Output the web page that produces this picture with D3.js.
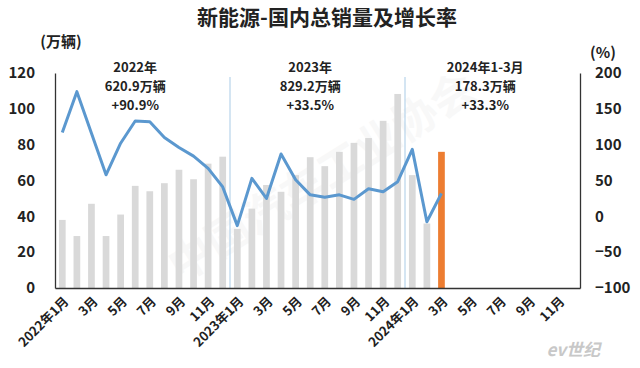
<!DOCTYPE html>
<html>
<head>
<meta charset="utf-8">
<script src="https://cdn.jsdelivr.net/npm/d3@7"></script>
<style>
  body { margin: 0; background: #fff; }
  text { font-family: "Noto Sans CJK SC", "Noto Sans", sans-serif; font-weight: bold; fill: #222; }
</style>
</head>
<body>
<div id="chart"></div>
<script>
var width = 640;
var height = 368;
let bar_color = "#d9d9d9";
let hi_color = "#ed7d31";
let line_color = "#5b98cf";
let div_color = "#a9cbe6";

// 36 months, 2022-01 .. 2024-12
let months = [];
for (let y = 2022; y <= 2024; y++) {
  for (let m = 1; m <= 12; m++) { months.push(y + "-" + m); }
}
let month_labels = ["2022年1月","","3月","","5月","","7月","","9月","","11月","",
                    "2023年1月","","3月","","5月","","7月","","9月","","11月","",
                    "2024年1月","","3月","","5月","","7月","","9月","","11月",""];

// sales (万辆)
let sales = [38, 29, 47, 29, 41, 57, 54, 58.5, 66, 60.7, 69.4, 73.3,
             33, 44.3, 57.5, 53.7, 63, 73, 68, 76, 81, 83.7, 93.3, 108.3,
             63, 36, 76];
// growth (%)
let growth = [117, 174, 116, 58, 102, 133, 132, 110, 96, 84, 67, 41,
              -13, 53, 25, 87, 51, 30, 26.5, 30, 23.7, 38.5, 34.4, 48.3,
              93.4, -7.5, 32];
let highlight = 26;

let left_ticks = [0, 20, 40, 60, 80, 100, 120];
let right_ticks = [-100, -50, 0, 50, 100, 150, 200];

let notes = [
  { at: 5.5,  lines: ["2022年", "620.9万辆", "+90.9%"] },
  { at: 17.5, lines: ["2023年", "829.2万辆", "+33.5%"] },
  { at: 29.5, lines: ["2024年1-3月", "178.3万辆", "+33.3%"] }
];
let dividers = [11, 23]; // after Dec 2022 and Dec 2023

var m_left = 55, m_right = 580, m_top = 72, m_bottom = 288;

var svg = d3.select("#chart").append("svg")
  .attr("width", width)
  .attr("height", height);

var x = d3.scaleBand().domain(months).range([m_left, m_right]).paddingInner(0.54).paddingOuter(0.27);
var band_step = x.step();
var yl = d3.scaleLinear().domain([0, 120]).range([m_bottom, m_top + 1]);
var yr = d3.scaleLinear().domain([-100, 200]).range([m_bottom, m_top + 1]);

//------------------ watermark -------------------
svg.append("text")
  .attr("transform", "translate(330,190) rotate(-32)")
  .attr("text-anchor", "middle")
  .style("font-size", "44px")
  .style("fill", "#000")
  .style("opacity", 0.025)
  .text("中国汽车工业协会");

//------------------ bars -------------------
svg.append("g").attr("id", "bars")
  .selectAll("rect")
  .data(sales)
  .join("rect")
  .attr("x", (d, i) => x(months[i]))
  .attr("y", d => yl(d))
  .attr("width", x.bandwidth())
  .attr("height", d => yl(0) - yl(d))
  .style("fill", (d, i) => i == highlight ? hi_color : bar_color);

//------------------ year dividers -------------------
svg.append("g").attr("id", "dividers")
  .selectAll("line")
  .data(dividers)
  .join("line")
  .attr("x1", d => x(months[d]) + x.bandwidth() / 2 + band_step / 2)
  .attr("x2", d => x(months[d]) + x.bandwidth() / 2 + band_step / 2)
  .attr("y1", m_top + 5)
  .attr("y2", m_bottom)
  .style("stroke", div_color)
  .style("stroke-width", 1);

//------------------ growth line -------------------
var line = d3.line()
  .x((d, i) => x(months[i]) + x.bandwidth() / 2)
  .y(d => yr(d));

svg.append("path")
  .datum(growth)
  .attr("d", line)
  .style("fill", "none")
  .style("stroke", line_color)
  .style("stroke-width", 3)
  .style("stroke-linejoin", "round");

//------------------ axes -------------------
var ax_left = svg.append("g")
  .attr("transform", "translate(" + m_left + ",0)")
  .call(d3.axisLeft(yl).tickValues(left_ticks).tickSize(0).tickPadding(20));

var ax_right = svg.append("g")
  .attr("transform", "translate(" + m_right + ",0)")
  .call(d3.axisRight(yr).tickValues(right_ticks).tickSize(0).tickPadding(15));

var ax_bottom = svg.append("g")
  .attr("transform", "translate(0," + m_bottom + ")")
  .call(d3.axisBottom(x).tickSize(0).tickFormat((d, i) => month_labels[i]));

[ax_left, ax_right, ax_bottom].forEach(function(a) {
  a.select(".domain").style("stroke", "#333").style("stroke-width", 1.3);
  a.selectAll("text").style("font-size", "15px").style("fill", "#222");
});

ax_bottom.selectAll("text")
  .style("font-size", "13px")
  .attr("text-anchor", "end")
  .attr("x", 0)
  .attr("y", 0)
  .attr("dy", "0.35em")
  .attr("transform", "translate(4,11) rotate(-45)");

//------------------ titles -------------------
svg.append("text")
  .attr("x", 327)
  .attr("y", 25)
  .attr("text-anchor", "middle")
  .style("font-size", "21px")
  .text("新能源-国内总销量及增长率");

svg.append("text")
  .attr("x", 61)
  .attr("y", 47)
  .attr("text-anchor", "middle")
  .style("font-size", "15px")
  .text("(万辆)");

svg.append("text")
  .attr("x", 603)
  .attr("y", 58)
  .attr("text-anchor", "middle")
  .style("font-size", "15px")
  .text("(%)");

//------------------ annotations -------------------
notes.forEach(function(n) {
  let cx = m_left + band_step * n.at;
  n.lines.forEach(function(t, k) {
    svg.append("text")
      .attr("x", cx)
      .attr("y", 72 + k * 19)
      .attr("text-anchor", "middle")
      .style("font-size", "13px")
      .text(t);
  });
});

//------------------ source logo -------------------
svg.append("text")
  .attr("x", 600)
  .attr("y", 356)
  .attr("text-anchor", "end")
  .style("font-size", "17px")
  .style("font-style", "italic")
  .style("fill", "#c8c8c8")
  .text("ev世纪");
</script>
</body>
</html>
